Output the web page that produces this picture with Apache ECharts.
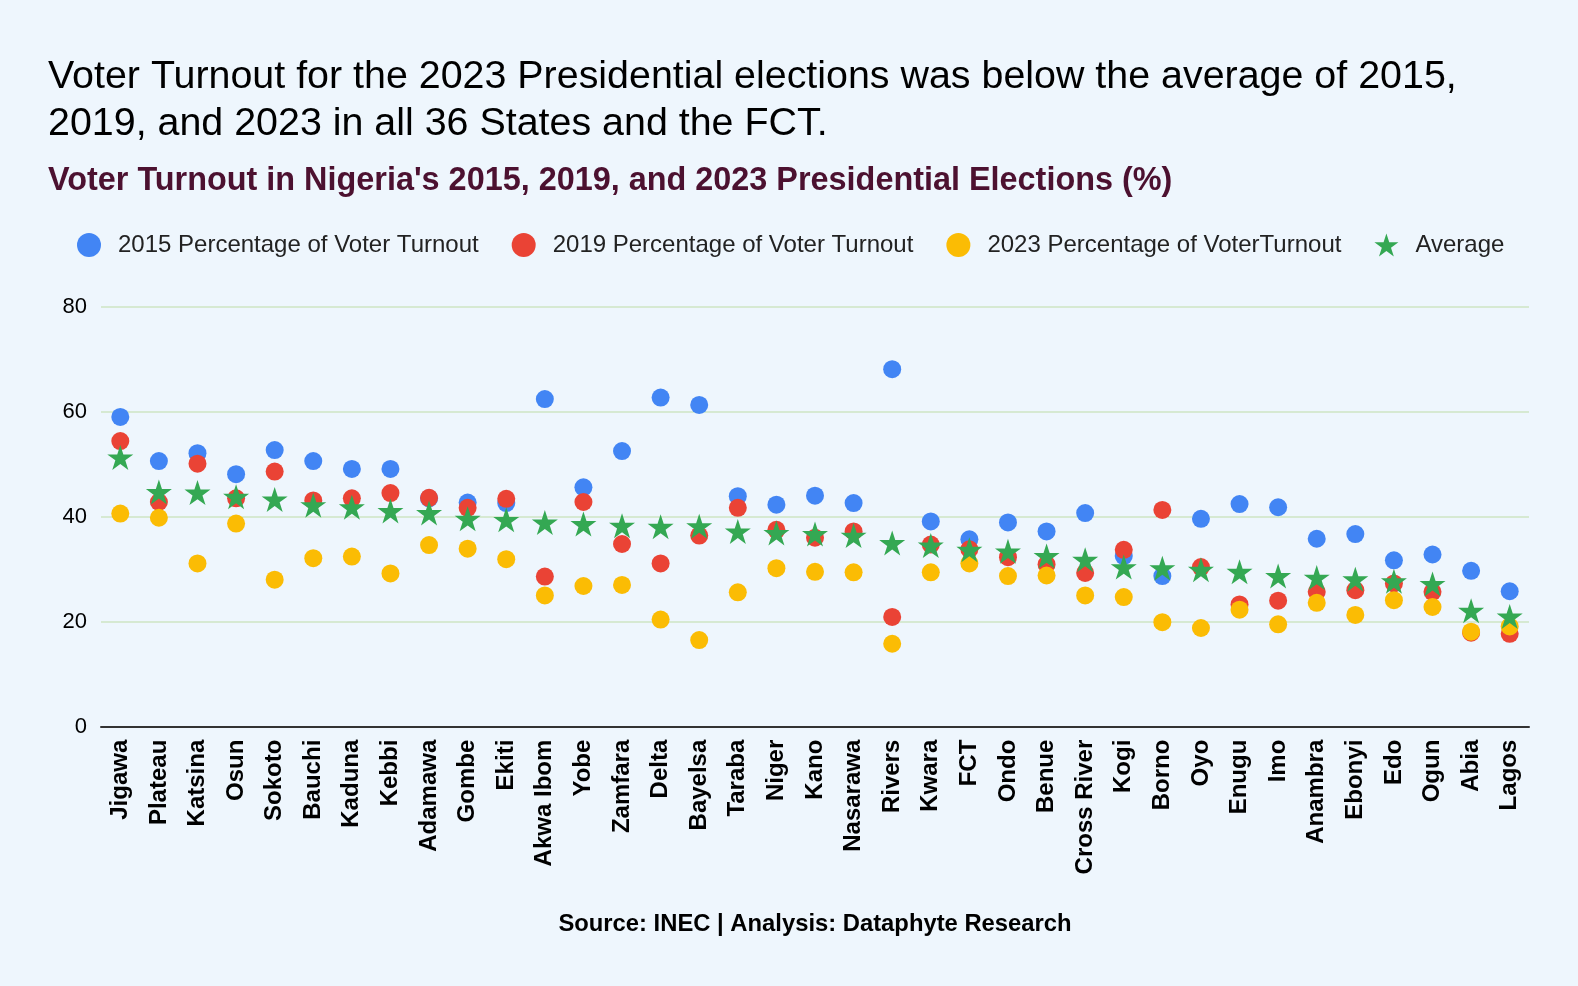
<!DOCTYPE html>
<html>
<head>
<meta charset="utf-8">
<script src="https://cdn.jsdelivr.net/npm/echarts@6/dist/echarts.min.js"></script>
<style>
html,body{margin:0;padding:0;background:#eef6fd;}
#chart{width:1578px;height:986px;}
</style>
</head>
<body>
<div id="chart"></div>
<script>
const categories = ['Jigawa','Plateau','Katsina','Osun','Sokoto','Bauchi','Kaduna','Kebbi','Adamawa','Gombe','Ekiti','Akwa Ibom','Yobe','Zamfara','Delta','Bayelsa','Taraba','Niger','Kano','Nasarawa','Rivers','Kwara','FCT','Ondo','Benue','Cross River','Kogi','Borno','Oyo','Enugu','Imo','Anambra','Ebonyi','Edo','Ogun','Abia','Lagos'];
const turnout2015 = [59.0,50.6,52.1,48.1,52.7,50.6,49.1,49.1,43.5,42.7,42.6,62.4,45.6,52.5,62.7,61.3,43.9,42.3,44.0,42.6,68.1,39.1,35.7,38.9,37.2,40.7,32.5,28.7,39.6,42.4,41.8,35.8,36.7,31.7,32.8,29.7,25.8];
const turnout2019 = [54.4,42.8,50.1,43.5,48.6,43.1,43.5,44.5,43.6,41.7,43.4,28.6,42.8,34.8,31.1,36.4,41.7,37.5,36.0,37.2,20.9,34.7,33.8,32.3,30.9,29.3,33.7,41.3,30.4,23.3,24.0,25.7,26.0,27.3,25.7,17.9,17.7];
const turnout2023 = [40.6,39.8,31.1,38.7,28.0,32.1,32.4,29.2,34.6,33.9,31.9,25.0,26.8,27.0,20.4,16.5,25.6,30.2,29.5,29.4,15.8,29.4,31.1,28.7,28.8,25.0,24.7,19.9,18.8,22.3,19.5,23.6,21.3,24.1,22.8,18.1,19.1];
const average = [51.3,44.7,44.6,43.8,43.3,42.2,41.8,41.1,40.7,39.6,39.4,38.9,38.6,38.3,38.1,38.2,37.2,36.9,36.7,36.4,35.0,34.5,33.7,33.4,32.5,31.8,30.4,30.2,29.9,29.5,28.7,28.4,28.1,27.7,27.2,22.1,21.0];
const seriesNames = ['2015 Percentage of Voter Turnout','2019 Percentage of Voter Turnout','2023 Percentage of VoterTurnout','Average'];
const yTicks = {min: 0, max: 80, interval: 20};

const FONT = "'Liberation Sans', Arial, sans-serif";
const STAR = 'path://M50,0 L61.23,34.55 L97.55,34.55 L68.17,55.9 L79.39,90.45 L50,69.1 L20.61,90.45 L31.83,55.9 L2.45,34.55 L38.77,34.55 Z';
const colors = ['#4285F4','#EA4335','#FBBC04','#34A853'];

const chart = echarts.init(document.getElementById('chart'), null, {renderer:'canvas'});
chart.setOption({
  backgroundColor: '#eef6fd',
  animation: false,
  title: [
    {
      text: 'Voter Turnout for the 2023 Presidential elections was below the average of 2015,\n2019, and 2023 in all 36 States and the FCT.',
      left: 48, top: 54, padding: 0,
      textStyle: {fontFamily: FONT, fontSize: 39.4, fontWeight: 'normal', color: '#000', lineHeight: 46.7}
    },
    {
      text: "Voter Turnout in Nigeria's 2015, 2019, and 2023 Presidential Elections (%)",
      left: 48, top: 161, padding: 0,
      textStyle: {fontFamily: FONT, fontSize: 32.4, fontWeight: 'bold', color: '#4c1130', lineHeight: 40}
    },
    {
      text: 'Source: INEC | Analysis: Dataphyte Research',
      left: 815, top: 909, padding: 0, textAlign: 'center',
      textStyle: {fontFamily: FONT, fontSize: 23.8, fontWeight: 'bold', color: '#000', lineHeight: 30}
    }
  ],
  legend: {
    left: 77, top: 233, padding: 0,
    itemWidth: 24, itemHeight: 24, itemGap: 33,
    selectedMode: false,
    textStyle: {fontFamily: FONT, fontSize: 24, color: '#222', padding: [0,0,0,12]},
    data: [
      {name: seriesNames[0], icon: 'circle'},
      {name: seriesNames[1], icon: 'circle'},
      {name: seriesNames[2], icon: 'circle'},
      {name: seriesNames[3], icon: STAR}
    ]
  },
  grid: {left: 101, right: 49, top: 306.7, bottom: 259.3, containLabel: false},
  xAxis: {
    type: 'category',
    data: categories,
    boundaryGap: true,
    axisLine: {lineStyle: {color: '#333', width: 2}},
    axisTick: {show: false},
    axisLabel: {interval: 0, rotate: 90, margin: 13, fontFamily: FONT, fontSize: 24, fontWeight: 'bold', color: '#000'},
    splitLine: {show: false}
  },
  yAxis: {
    type: 'value',
    min: yTicks.min, max: yTicks.max, interval: yTicks.interval,
    axisLine: {show: false},
    axisTick: {show: false},
    axisLabel: {margin: 14, fontFamily: FONT, fontSize: 22, color: '#000'},
    splitLine: {lineStyle: {color: '#d6e9d2', width: 2}}
  },
  series: [
    {name: seriesNames[0], type: 'scatter', data: turnout2015, symbol: 'circle', symbolSize: 18, itemStyle: {color: colors[0], opacity: 1}, emphasis: {disabled: true}, z: 2},
    {name: seriesNames[1], type: 'scatter', data: turnout2019, symbol: 'circle', symbolSize: 18, itemStyle: {color: colors[1], opacity: 1}, emphasis: {disabled: true}, z: 3},
    {name: seriesNames[2], type: 'scatter', data: turnout2023, symbol: 'circle', symbolSize: 18, itemStyle: {color: colors[2], opacity: 1}, emphasis: {disabled: true}, z: 4},
    {name: seriesNames[3], type: 'scatter', data: average, symbol: STAR, symbolSize: [26, 25], itemStyle: {color: colors[3], opacity: 1}, emphasis: {disabled: true}, z: 5}
  ]
});
</script>
</body>
</html>
